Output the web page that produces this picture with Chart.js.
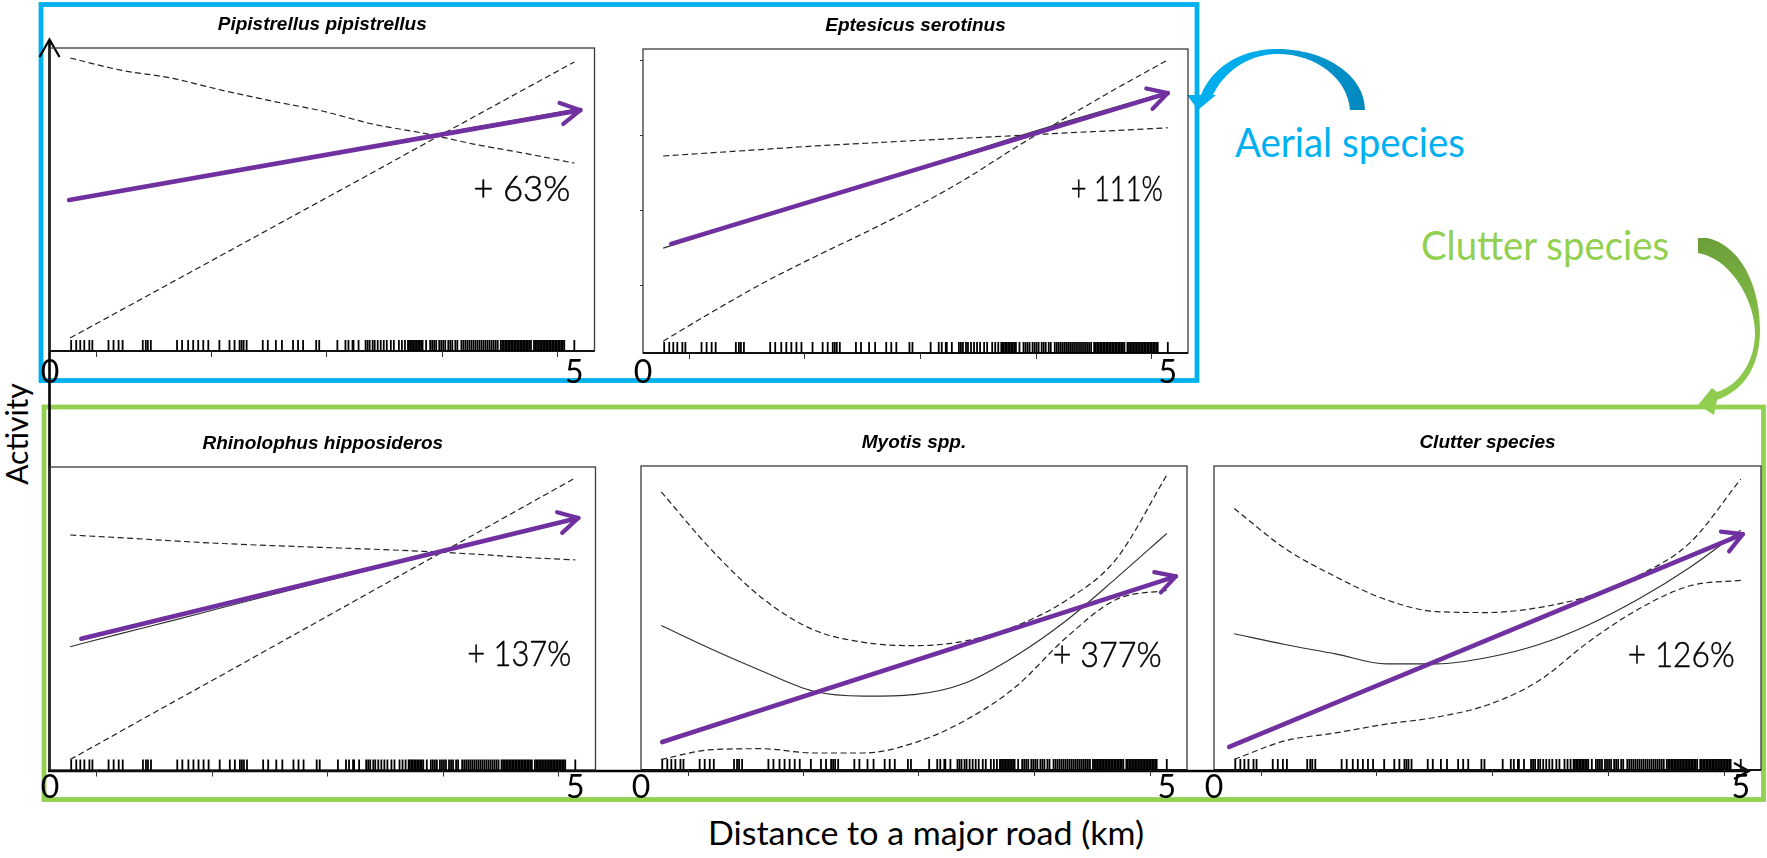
<!DOCTYPE html>
<html><head><meta charset="utf-8">
<script src="https://cdn.jsdelivr.net/npm/chart.js@4.4.0/dist/chart.umd.min.js"></script>
<style>
html,body{margin:0;padding:0;background:#fff;width:1767px;height:858px;overflow:hidden;}
#stage{position:relative;width:1767px;height:858px;}
#deco{position:absolute;left:0;top:0;z-index:0}
canvas{position:absolute;z-index:1}
</style></head><body><div id="stage">
<svg id="deco" width="1767" height="858" xmlns="http://www.w3.org/2000/svg">
<defs>
<linearGradient id="gBlue" gradientUnits="userSpaceOnUse" x1="1190" y1="0" x2="1365" y2="0">
<stop offset="0" stop-color="#00B0F0"/><stop offset="0.45" stop-color="#00AAE8"/><stop offset="0.55" stop-color="#0C9CD6"/><stop offset="1" stop-color="#0088BE"/>
</linearGradient>
<linearGradient id="gGreen" gradientUnits="userSpaceOnUse" x1="0" y1="238" x2="0" y2="412">
<stop offset="0" stop-color="#6A9E3A"/><stop offset="0.45" stop-color="#82BC46"/><stop offset="1" stop-color="#92D050"/>
</linearGradient>
</defs>
<rect x="41" y="4.5" width="1156" height="376" fill="none" stroke="#00B0F0" stroke-width="4.8"/>
<rect x="44" y="407" width="1719.5" height="392.5" fill="none" stroke="#92D050" stroke-width="4.8"/>
<line x1="49.5" y1="40" x2="49.5" y2="772" stroke="#000" stroke-width="2.6"/>
<polyline points="39.5,57 49.5,39.5 59.5,57" fill="none" stroke="#000" stroke-width="2.2"/>
<line x1="48" y1="771" x2="1748" y2="771" stroke="#000" stroke-width="2.6"/>
<polyline points="1734,763 1749,771 1734,779" fill="none" stroke="#000" stroke-width="2.2"/>
<path d="M1365,110 C1365,75 1325,49 1277,49 C1240,49 1212,68 1201,95 L1187,95 L1198,110 L1216,95 L1213,95 C1225,70 1250,54 1278,54 C1315,54 1348,78 1350,110 Z" fill="url(#gBlue)"/>
<path d="M1698,238 L1707,238 C1740,245 1760,285 1760,330 C1760,365 1745,390 1717,400 L1714,415 L1698,405 L1712,388 L1717,392 C1740,385 1755,360 1755,333 C1755,300 1730,258 1698,253 Z" fill="url(#gGreen)"/>
<text x="1235" y="157" font-family="Lato, 'Open Sans', sans-serif" font-size="40" fill="#00B0F0" textLength="230" lengthAdjust="spacingAndGlyphs">Aerial species</text>
<text x="1421" y="260" font-family="Lato, 'Open Sans', sans-serif" font-size="40" fill="#92D050" textLength="248" lengthAdjust="spacingAndGlyphs">Clutter species</text>
<text transform="translate(28,434) rotate(-90)" text-anchor="middle" font-family="Lato, 'Open Sans', sans-serif" font-size="30" fill="#000">Activity</text>
<text x="708" y="845" font-family="Lato, 'Open Sans', sans-serif" font-size="32" fill="#000" textLength="436" lengthAdjust="spacingAndGlyphs">Distance to a major road (km)</text>
</svg>
</div>
<script>
// ---------- data ----------
const distanceKm = [0, 0.5, 1, 1.5, 2, 2.5, 3, 3.5, 4, 4.5, 5];
const panelTitles = ["Pipistrellus pipistrellus", "Eptesicus serotinus", "Rhinolophus hipposideros", "Myotis spp.", "Clutter species"];
const changeLabels = ["+ 63%", "+ 111%", "+ 137%", "+ 377%", "+ 126%"];
const axisEndLabels = ["0", "5"];
const axisEndKm = [-0.2, 5];
const rTickKm = [0.26, 1.40, 2.54, 3.69, 4.83];
const rugKm = [
0.01,0.06,0.10,0.14,0.19,0.22,
0.38,0.43,0.48,0.52,
0.72,0.75,0.77,0.80,
1.06,1.11,1.17,1.22,1.27,1.32,1.37,
1.48,
1.58,1.63,1.68,1.70,1.72,1.75,
1.91,1.96,2.04,2.10,
2.21,2.26,2.31,
2.44,2.47,
2.65,
2.73,2.76,2.80,2.81,
2.86,
2.93,2.95,2.97,3.00,3.02,3.05,3.08,3.11,3.14,3.18,
3.21,
3.26,3.29,3.32,3.35,
3.36,3.375,3.39,3.405,3.42,3.435,3.45,3.465,3.48,3.495,
3.53,
3.57,3.59,3.61,3.63,3.66,3.68,3.70,3.72,3.75,3.77,3.79,3.82,3.84,
3.88,3.90,3.92,3.94,3.96,3.98,4.00,4.02,4.04,4.06,4.08,4.10,4.12,4.14,4.16,4.18,4.20,4.22,4.24,
4.27,4.285,4.30,4.315,4.33,4.345,4.36,4.375,4.39,4.405,4.42,4.435,4.45,4.465,4.48,4.495,4.51,4.525,4.54,4.555,4.57,
4.60,4.615,4.63,4.645,4.66,4.675,4.69,4.705,4.72,4.735,4.75,4.765,4.78,4.795,4.81,4.825,4.84,4.855,4.87,4.885,4.90,
5.00];

// relative activity (0-100 of panel height)
const pipFit   = [49.8, 52.8, 55.8, 58.7, 61.7, 64.8, 67.8, 70.8, 73.8, 76.7, 79.7];
const pipLower = [4.3, 13.4, 22.5, 31.6, 40.7, 49.8, 58.9, 68.1, 77.2, 86.3, 95.4];
const pipUpper = [96.7, 92.7, 90.1, 86.1, 82.5, 79.2, 74.9, 71.9, 68.3, 65.3, 62.0];
const pipTrendX = [-0.01, 5.06], pipTrendY = [49.8, 79.5];

const eptFit   = [34.5, 39.7, 45.0, 50.2, 55.4, 60.6, 65.8, 71.1, 76.2, 81.1, 85.9];
const eptLower = [3.9, 13.8, 23.2, 31.6, 39.6, 48.0, 57.3, 67.8, 77.6, 87.2, 96.4];
const eptUpper = [64.8, 65.9, 67.0, 68.1, 69.0, 69.9, 70.7, 71.5, 72.4, 73.2, 74.1];
const eptTrendX = [0.08, 5.0], eptTrendY = [35.9, 85.5];

const rhiFit   = [40.8, 45.1, 49.3, 53.6, 57.9, 62.2, 66.4, 70.7, 74.8, 79.1, 83.2];
const rhiLower = [3.6, 12.9, 22.2, 31.4, 40.7, 50.0, 59.3, 68.6, 77.8, 87.1, 96.4];
const rhiUpper = [77.6, 76.7, 75.7, 74.8, 74.1, 73.5, 72.9, 72.2, 71.3, 70.2, 69.4];
const rhiTrendX = [0.11, 5.03], rhiTrendY = [43.4, 83.2];

const myoFit   = [47.5, 39.7, 32.5, 26.0, 24.3, 24.8, 28.5, 37.4, 49.0, 63.1, 77.8];
const myoLower = [3.5, 6.7, 7.0, 5.6, 5.6, 8.9, 16.2, 27.2, 43.4, 56.1, 59.1];
const myoUpper = [91.5, 72.3, 56.5, 46.2, 42.0, 40.9, 42.4, 47.3, 55.7, 69.4, 97.0];
const myoTrendX = [0.01, 5.09], myoTrendY = [9.2, 63.7];

const cluFit   = [44.8, 41.3, 38.2, 34.9, 34.9, 37.0, 41.2, 47.8, 56.4, 66.7, 78.9];
const cluLower = [3.5, 9.6, 12.2, 15.1, 17.4, 21.4, 29.2, 42.2, 53.1, 60.6, 62.4];
const cluUpper = [86.0, 72.9, 63.6, 56.0, 52.1, 51.8, 53.4, 57.2, 64.1, 74.8, 95.7];
const cluTrendX = [-0.05, 5.02], cluTrendY = [7.6, 77.6];

const eptYTicks = [96.5, 71.7, 47.0, 22.4];

// ---------- layout ----------
const PADL = 40, PADR = 40, PADT = 45, PADB = 45;
const panels = [
  {L:49.5, T:48,  R:594,  B:351,   title:0, fit:pipFit, lower:pipLower, upper:pipUpper, tx:pipTrendX, ty:pipTrendY, lab:[4.96,53.1], labW:97,  endDy:21.5},
  {L:643,  T:49,  R:1188, B:353,   title:1, fit:eptFit, lower:eptLower, upper:eptUpper, tx:eptTrendX, ty:eptTrendY, lab:[4.95,53.6], labW:92,  endDy:20, yTicks:eptYTicks},
  {L:49.5, T:467, R:595,  B:770.5, title:2, fit:rhiFit, lower:rhiLower, upper:rhiUpper, tx:rhiTrendX, ty:rhiTrendY, lab:[4.96,38.2], labW:104, endDy:17.5},
  {L:641,  T:466, R:1187, B:770,   title:3, fit:myoFit, lower:myoLower, upper:myoUpper, tx:myoTrendX, ty:myoTrendY, lab:[4.95,37.6], labW:109, endDy:18},
  {L:1214, T:466, R:1761, B:770,   title:4, fit:cluFit, lower:cluLower, upper:cluUpper, tx:cluTrendX, ty:cluTrendY, lab:[4.94,37.6], labW:107, endDy:18}
];

const PURPLE = '#7030A0';

function decoPlugin(p) {
  return {
    id: 'deco' + p.title,
    beforeDatasetsDraw(chart) {
      const {ctx, chartArea: a, scales: {x, y}} = chart;
      ctx.save();
      ctx.strokeStyle = '#3a3a3a';
      ctx.lineWidth = 1.3;
      ctx.strokeRect(a.left, a.top, a.right - a.left, a.bottom - a.top);
      ctx.strokeStyle = '#111';
      ctx.lineWidth = 2;
      ctx.beginPath(); ctx.moveTo(a.left, a.bottom); ctx.lineTo(a.right, a.bottom); ctx.stroke();
      ctx.strokeStyle = '#333'; ctx.lineWidth = 1;
      rTickKm.forEach(v => {
        const px = Math.round(x.getPixelForValue(v)) + 0.5;
        ctx.beginPath(); ctx.moveTo(px, a.bottom); ctx.lineTo(px, a.bottom + 6); ctx.stroke();
      });
      if (p.yTicks) {
        p.yTicks.forEach(v => {
          const py = Math.round(y.getPixelForValue(v)) + 0.5;
          ctx.beginPath(); ctx.moveTo(a.left - 3, py); ctx.lineTo(a.left, py); ctx.stroke();
        });
      }
      ctx.strokeStyle = '#000'; ctx.lineWidth = 1.8;
      rugKm.forEach(v => {
        const px = x.getPixelForValue(v);
        ctx.beginPath(); ctx.moveTo(px, a.bottom); ctx.lineTo(px, a.bottom - 11); ctx.stroke();
      });
      ctx.restore();
    },
    afterDatasetsDraw(chart) {
      const {ctx, chartArea: a, scales: {x, y}} = chart;
      ctx.save();
      const x0 = x.getPixelForValue(p.tx[0]), y0 = y.getPixelForValue(p.ty[0]);
      const x1 = x.getPixelForValue(p.tx[1]), y1 = y.getPixelForValue(p.ty[1]);
      const ang = Math.atan2(y1 - y0, x1 - x0);
      const len = 22, spread = Math.PI / 6.2;
      ctx.strokeStyle = PURPLE; ctx.lineWidth = 4.2; ctx.lineCap = 'round'; ctx.lineJoin = 'round';
      ctx.beginPath();
      ctx.moveTo(x1 - len * Math.cos(ang - spread), y1 - len * Math.sin(ang - spread));
      ctx.lineTo(x1, y1);
      ctx.lineTo(x1 - len * Math.cos(ang + spread), y1 - len * Math.sin(ang + spread));
      ctx.stroke();
      ctx.fillStyle = '#000';
      ctx.font = 'italic bold 19px "Liberation Sans", Arial, sans-serif';
      ctx.textAlign = 'center'; ctx.textBaseline = 'middle';
      ctx.fillText(panelTitles[p.title], (a.left + a.right) / 2, a.top - 23);
      ctx.font = '300 35px Lato, "Open Sans", sans-serif';
      ctx.textAlign = 'right';
      ctx.strokeStyle = '#000'; ctx.lineWidth = 0.5; ctx.lineCap = 'butt'; ctx.lineJoin = 'miter';
      const lx = x.getPixelForValue(p.lab[0]), ly = y.getPixelForValue(p.lab[1]);
      ctx.fillText(changeLabels[p.title], lx, ly, p.labW);
      ctx.strokeText(changeLabels[p.title], lx, ly, p.labW);
      ctx.font = '32px Lato, "Open Sans", sans-serif';
      ctx.textAlign = 'center';
      axisEndLabels.forEach((t, i) => {
        ctx.fillText(t, x.getPixelForValue(axisEndKm[i]), a.bottom + p.endDy);
      });
      ctx.restore();
    }
  };
}

function makePanel(p) {
  const stage = document.getElementById('stage');
  const cw = Math.round(p.R - p.L + PADL + PADR), ch = Math.round(p.B - p.T + PADT + PADB);
  const c = document.createElement('canvas');
  c.width = cw; c.height = ch;
  c.style.width = cw + 'px'; c.style.height = ch + 'px';
  c.style.left = (p.L - PADL) + 'px'; c.style.top = (p.T - PADT) + 'px';
  stage.appendChild(c);
  const pts = ys => distanceKm.map((v, i) => ({x: v, y: ys[i]}));
  const padR = cw - PADL - (p.R - p.L);
  const padB = ch - PADT - (p.B - p.T);
  const dashed = {borderColor: '#222', borderWidth: 1.2, borderDash: [6, 3.5], pointRadius: 0, cubicInterpolationMode: 'monotone', clip: false};
  new Chart(c, {
    type: 'line',
    data: {datasets: [
      {data: [{x: p.tx[0], y: p.ty[0]}, {x: p.tx[1], y: p.ty[1]}], borderColor: PURPLE, borderWidth: 4.6, borderCapStyle: 'round', pointRadius: 0, tension: 0, clip: false},
      {data: pts(p.fit), borderColor: '#2f2f2f', borderWidth: 1.1, pointRadius: 0, cubicInterpolationMode: 'monotone', clip: false},
      Object.assign({data: pts(p.upper)}, dashed),
      Object.assign({data: pts(p.lower)}, dashed)
    ]},
    options: {
      responsive: false, animation: false, devicePixelRatio: 1, events: [],
      layout: {padding: {left: PADL, right: padR, top: PADT, bottom: padB}},
      scales: {
        x: {type: 'linear', min: -0.2, max: 5.2, display: false},
        y: {type: 'linear', min: 0, max: 100, display: false}
      },
      plugins: {legend: {display: false}, tooltip: {enabled: false}, title: {display: false}}
    },
    plugins: [decoPlugin(p)]
  });
}
panels.forEach(makePanel);
</script>
</body></html>
